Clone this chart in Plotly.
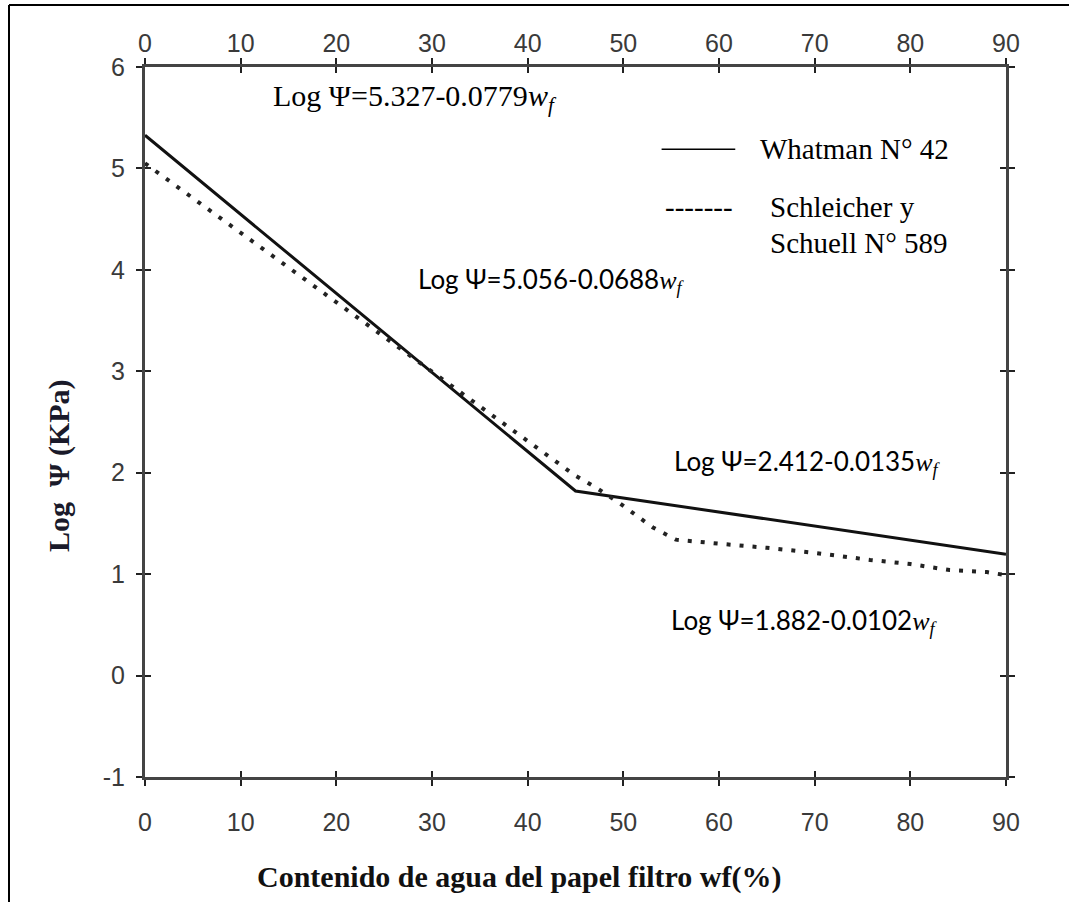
import plotly.graph_objects as go

# ---- data ----
x_whatman = [0, 45, 90]
y_whatman = [5.327, 1.82, 1.197]

x_schleicher = [0, 45, 47.2, 49.6, 53.1, 55.5, 60, 65, 70, 75.8, 80, 84.1, 88, 90]
y_schleicher = [5.05, 1.97, 1.85, 1.70, 1.46, 1.34, 1.30, 1.26, 1.21, 1.14, 1.10, 1.04, 1.02, 0.99]

x_ticks = [0, 10, 20, 30, 40, 50, 60, 70, 80, 90]
x_ticktext = ["0", "10", "20", "30", "40", "50", "60", "70", "80", "90"]
y_ticks = [-1, 0, 1, 2, 3, 4, 5, 6]
y_ticktext = ["-1", "0", "1", "2", "3", "4", "5", "6"]

series_names = ["Whatman N° 42", "Schleicher y Schuell N° 589"]

# body margin is removed in the page, so figure pixels == page pixels
OFF = 0
W, H = 1069, 902
ML = 145 - OFF
MT = 67 - OFF
MR = W - (1006 - OFF)
MB = H - (777 - OFF)

TICKFONT = dict(family="Liberation Sans Narrow, Arial Narrow, Liberation Sans, Arial", size=25, color="#3a3a3a")
SERIF = "Liberation Serif, Times New Roman, serif"
SANS = "Lato, Carlito, Calibri, sans-serif"
AXCOL = "#444444"

fig = go.Figure()
fig.add_trace(go.Scatter(x=x_whatman, y=y_whatman, mode="lines", name=series_names[0],
                         line=dict(color="#111111", width=3), showlegend=False))
fig.add_trace(go.Scatter(x=x_schleicher, y=y_schleicher, mode="lines", name=series_names[1],
                         line=dict(color="#222222", width=4, dash="4px,9px"), showlegend=False))
# helper trace so the overlay axes (crossing ticks, top labels) are drawn
fig.add_trace(go.Scatter(x=[None], y=[None], xaxis="x2", yaxis="y2", showlegend=False, hoverinfo="skip"))

common_x = dict(range=[0, 90], tickvals=x_ticks, ticktext=x_ticktext, showgrid=False, zeroline=False,
                tickwidth=2, ticklen=6, tickcolor="#222222")
common_y = dict(range=[-1, 6], tickvals=y_ticks, ticktext=y_ticktext, showgrid=False, zeroline=False,
                tickwidth=2, ticklen=6, tickcolor="#222222")

fig.update_layout(
    width=W, height=H,
    margin=dict(l=ML, r=MR, t=MT, b=MB),
    paper_bgcolor="white", plot_bgcolor="white",
    xaxis=dict(**common_x, ticks="outside", mirror="ticks", showline=True, linewidth=3,
               linecolor=AXCOL, tickfont=TICKFONT, ticklabelstandoff=15),
    xaxis2=dict(**common_x, overlaying="x", side="top", ticks="inside", mirror="ticks",
                showline=False, tickfont=TICKFONT, ticklabelstandoff=9, matches="x"),
    yaxis=dict(**common_y, ticks="outside", mirror="ticks", showline=True, linewidth=3,
               linecolor=AXCOL, tickfont=TICKFONT, ticklabelstandoff=6),
    yaxis2=dict(**common_y, overlaying="y", side="left", ticks="inside", mirror="ticks",
                showline=False, showticklabels=False, matches="y"),
    showlegend=False,
)

def px2x(px):
    return (px - OFF - ML) / (W - ML - MR)

def py2y(py):
    return (H - MB - (py - OFF)) / (H - MT - MB)

wf = "<i>w</i><sub><i>f</i></sub>"
wf_math = "<span style='font-family:Liberation Serif'><i>w</i><sub><i>f</i></sub></span>"

ann = []
# equations
ann.append(dict(x=28.2, y=5.69, xref="x", yref="y", text="Log Ψ=5.327-0.0779" + wf,
                xanchor="center", yanchor="middle",
                showarrow=False, font=dict(family=SERIF, size=30, color="black")))
ann.append(dict(x=42.5, y=3.90, xref="x", yref="y", text="Log Ψ=5.056-0.0688" + wf_math,
                xanchor="center", yanchor="middle",
                showarrow=False, font=dict(family=SANS, size=26, color="black")))
ann.append(dict(x=69.3, y=2.10, xref="x", yref="y", text="Log Ψ=2.412-0.0135" + wf_math,
                xanchor="center", yanchor="middle",
                showarrow=False, font=dict(family=SANS, size=26, color="black")))
ann.append(dict(x=68.9, y=0.53, xref="x", yref="y", text="Log Ψ=1.882-0.0102" + wf_math,
                xanchor="center", yanchor="middle",
                showarrow=False, font=dict(family=SANS, size=26, color="black")))
# legend (text)
LEGFONT = dict(family=SERIF, size=29, color="black")
ann.append(dict(x=64.1, y=5.19, xref="x", yref="y", text=series_names[0], xanchor="left",
                yanchor="middle", showarrow=False, font=LEGFONT))
ann.append(dict(x=61.7, y=4.62, xref="x", yref="y", text="-------", xanchor="right",
                yanchor="middle", showarrow=False, font=LEGFONT))
ann.append(dict(x=65.1, y=4.62, xref="x", yref="y", text="Schleicher y", xanchor="left",
                yanchor="middle", showarrow=False, font=LEGFONT))
ann.append(dict(x=65.1, y=4.26, xref="x", yref="y", text="Schuell N° 589", xanchor="left",
                yanchor="middle", showarrow=False, font=LEGFONT))
# axis titles
ann.append(dict(x=px2x(59), y=py2y(466), xref="paper", yref="paper", text="<b>Log  Ψ (KPa)</b>",
                xanchor="center", yanchor="middle",
                textangle=-90, showarrow=False, font=dict(family=SERIF, size=30, color="#1a1a2a")))
ann.append(dict(x=px2x(519), y=py2y(877), xref="paper", yref="paper",
                text="<b>Contenido de agua del papel filtro wf(%)</b>",
                xanchor="center", yanchor="middle",
                showarrow=False, font=dict(family=SERIF, size=30, color="#111111")))
fig.update_layout(annotations=ann)

shapes = [
    # legend sample line for the solid series
    dict(type="line", xref="x", yref="y", x0=54.0, x1=61.7, y0=5.19, y1=5.19,
         line=dict(color="black", width=1.5)),
    # outer frame of the figure (left and top edges)
    dict(type="line", xref="paper", yref="paper", x0=px2x(9), x1=px2x(9), y0=py2y(5), y1=py2y(902),
         line=dict(color="black", width=2)),
    dict(type="line", xref="paper", yref="paper", x0=px2x(9), x1=px2x(1069), y0=py2y(5), y1=py2y(5),
         line=dict(color="black", width=2)),
]
fig.update_layout(shapes=shapes)

fig.write_html(
    "out.html",
    config={"displayModeBar": False},
    post_script="document.body.style.margin='0';document.body.style.overflow='hidden';",
)
